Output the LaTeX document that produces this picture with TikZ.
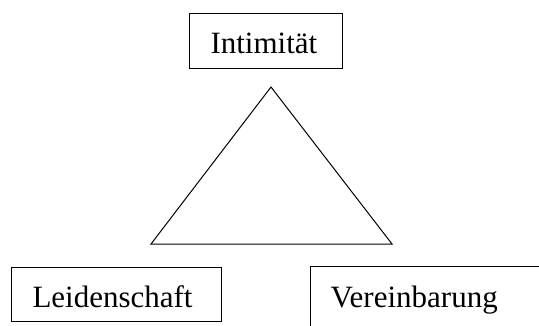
\documentclass[tikz,border=0pt]{standalone}
\usepackage{fontspec}
\setmainfont{Liberation Serif}
\usepackage{tikz}

\begin{document}
\begin{tikzpicture}[x=0.75pt, y=-0.75pt,
    font=\fontsize{23.25pt}{28pt}\selectfont,
    wordbox/.style={draw, line width=0.75pt, anchor=north west, align=left, inner ysep=0pt}]
      % Frame
      \clip (0,0) rectangle (539,325);

      % Top box
      \node[wordbox, inner xsep=15.75pt, text width=83.25pt, text height=30pt, text depth=11.25pt]
        (intimitaet) at (189,13) {Intimität};

      % Triangle
      \coordinate (apex) at (271,87);
      \coordinate (left) at (151,244);
      \coordinate (right) at (392,244);
      \draw[line width=0.75pt] (apex) -- (left) -- (right) -- cycle;

      % Bottom boxes
      \node[wordbox, inner xsep=15.75pt, text width=126pt, text height=30pt, text depth=10.5pt]
        (leidenschaft) at (11,267) {Leidenschaft};
      \node[wordbox, line width=1.1pt, inner xsep=15pt, text width=157.5pt, text height=30.75pt, text depth=21pt]
        (vereinbarung) at (310,266) {Vereinbarung};
    \end{tikzpicture}
\end{document}
